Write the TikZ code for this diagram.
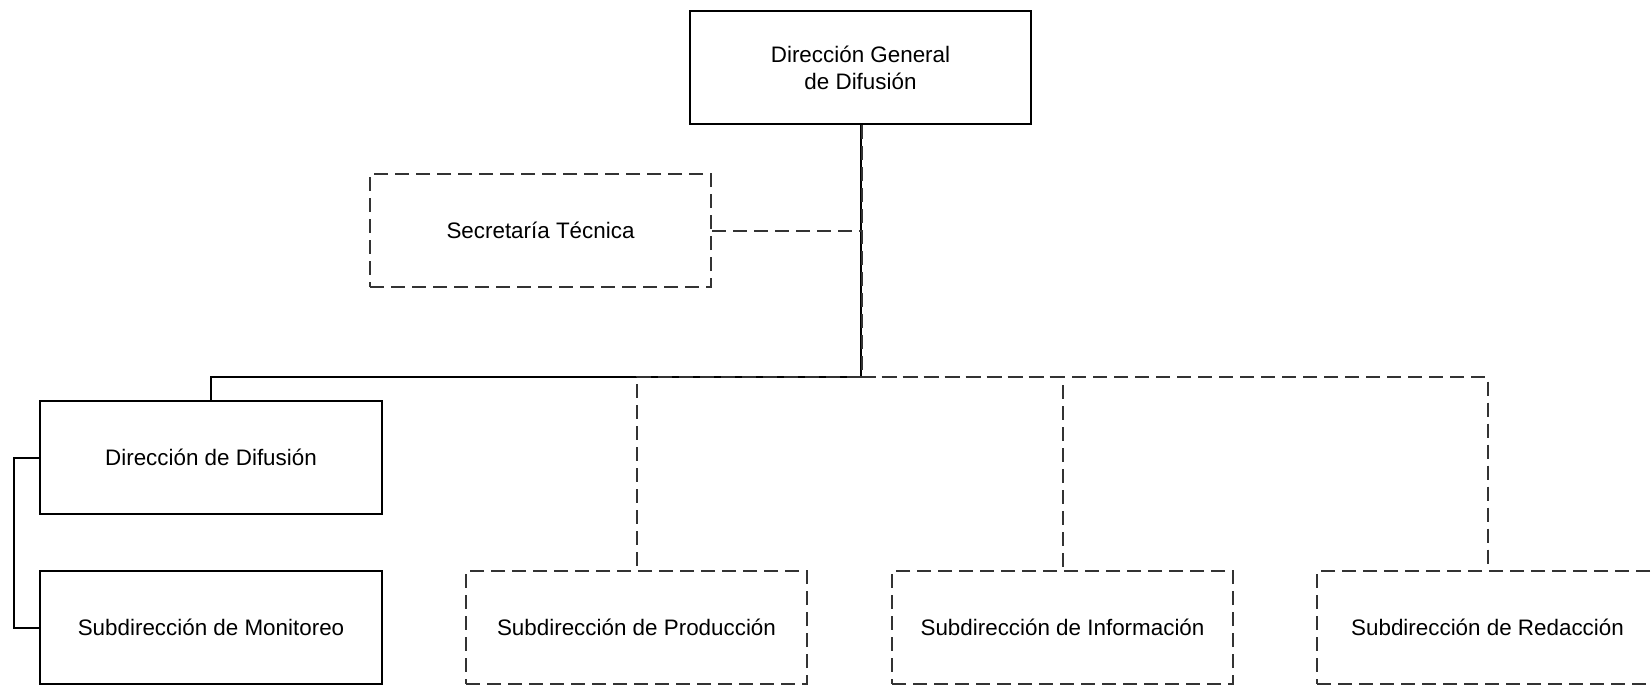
\documentclass[tikz,border=0pt]{standalone}
\usepackage{fontspec}
\setmainfont{Liberation Sans}
\begin{document}
\begin{tikzpicture}[x=1pt,y=-1pt,
  unit/.style={draw=black, line width=2pt, rectangle, inner sep=0pt,
    minimum width=341pt, minimum height=113pt, align=center,
    font=\fontsize{22.4}{27}\selectfont},
  staffunit/.style={unit, draw=black!80, dash pattern=on 14pt off 7pt},
  solidlink/.style={draw=black, line width=2pt},
  dashlink/.style={draw=black!80, line width=2pt, dash pattern=on 14pt off 7pt}]
\useasboundingbox (0,0) rectangle (1651,685);

% boxes
\node[unit] (dg) at (860.5,67.5) {Dirección General\\de Difusión};
\node[staffunit] (st) at (540.5,230.5) {Secretaría Técnica};
\node[unit, minimum width=342pt] (dd) at (211,457.5) {Dirección de Difusión};
\node[unit, minimum width=342pt] (sm) at (211,627.5) {Subdirección de Monitoreo};
\node[staffunit] (sp) at (636.5,627.5) {Subdirección de Producción};
\node[staffunit] (si) at (1062.5,627.5) {Subdirección de Información};
\node[staffunit] (sr) at (1487.5,627.5) {Subdirección de Redacción};

% bus level
\coordinate (bus) at (0,377);
\coordinate (side) at (14,0);

% solid line of command
\draw[solidlink] (dg.south) -- (dg.south |- bus) -| (dd.north);
\draw[solidlink] (dd.west) -- (dd.west -| side) |- (sm.west);

% dashed links
\draw[dashlink] ([xshift=1.5pt]dg.south) -- ([xshift=1.5pt]dg.south |- bus) -| (sr.north);
\draw[dashlink] (dg.south |- bus) -| (sp.north);
\draw[dashlink] (dg.south |- bus) -| (si.north);
\draw[dashlink] (st.east) -- (st.east -| dg.south);
\end{tikzpicture}
\end{document}
